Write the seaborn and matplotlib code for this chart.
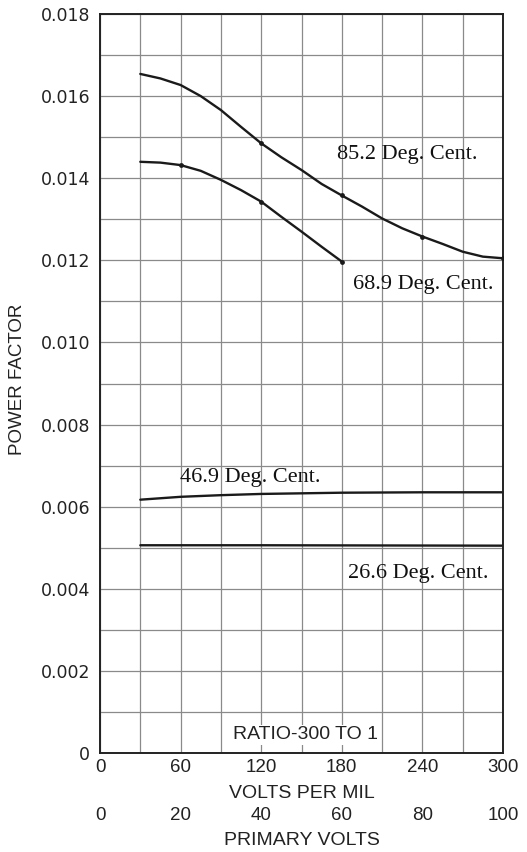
import matplotlib
matplotlib.use("Agg")
import matplotlib.pyplot as plt
import seaborn as sns
import pandas as pd
import numpy as np

# ---- data ----
x_852 = [30, 45, 60, 75, 90, 105, 120, 135, 150, 165, 180, 195, 210, 225, 240, 255, 270, 285, 300]
pf_852 = [0.01654, 0.01643, 0.01627, 0.01600, 0.01566, 0.01525, 0.01485, 0.01451, 0.01420,
          0.01386, 0.01358, 0.01331, 0.01302, 0.01278, 0.01258, 0.01240, 0.01221, 0.01209, 0.01205]
x_689 = [30, 45, 60, 75, 90, 105, 120, 135, 150, 165, 180]
pf_689 = [0.01440, 0.01438, 0.01432, 0.01418, 0.01396, 0.01371, 0.01343, 0.01306, 0.01270, 0.01233, 0.01197]
x_469 = [30, 60, 90, 120, 180, 240, 300]
pf_469 = [0.00617, 0.00624, 0.00628, 0.00631, 0.00634, 0.00635, 0.00635]
x_266 = [30, 120, 300]
pf_266 = [0.00506, 0.00506, 0.00505]

# measured points marked with dots
mark_x_852 = [120, 180, 240, 300]
mark_x_689 = [60, 120, 180]

labels = ["85.2 Deg. Cent.", "68.9 Deg. Cent.", "46.9 Deg. Cent.", "26.6 Deg. Cent."]
x_ticks = [0, 60, 120, 180, 240, 300]
y_ticks = [0, 0.002, 0.004, 0.006, 0.008, 0.010, 0.012, 0.014, 0.016, 0.018]
prim_ticks = [0, 20, 40, 60, 80, 100]

sns.set_style("white")
plt.rcParams['font.family'] = ['DejaVu Sans']

fig = plt.figure(figsize=(5.27, 8.52), dpi=100)
ax = fig.add_axes([100/527, 1-753/852, 403/527, 739/852])

df = pd.concat([
    pd.DataFrame({"x": x_852, "pf": pf_852, "s": labels[0]}),
    pd.DataFrame({"x": x_689, "pf": pf_689, "s": labels[1]}),
    pd.DataFrame({"x": x_469, "pf": pf_469, "s": labels[2]}),
    pd.DataFrame({"x": x_266, "pf": pf_266, "s": labels[3]}),
])
lc = "#1a1a1a"
sns.lineplot(data=df, x="x", y="pf", hue="s", palette=[lc]*4, legend=False,
             ax=ax, linewidth=1.7, sort=True)
mk = pd.DataFrame({
    "x": mark_x_852 + mark_x_689,
    "pf": [pf_852[x_852.index(v)] for v in mark_x_852] + [pf_689[x_689.index(v)] for v in mark_x_689],
})
sns.scatterplot(data=mk, x="x", y="pf", ax=ax, color=lc, s=12, zorder=4, legend=False, linewidth=0)

ax.set_xlim(0, 300)
ax.set_ylim(0, 0.018)
ax.grid(True, color="#8a8a8a", linewidth=0.9)
ax.set_axisbelow(True)
for sp in ax.spines.values():
    sp.set_visible(True)
    sp.set_color("#222222")
    sp.set_linewidth(1.4)

grid_x = list(range(0, 301, 30))
ax.set_xticks(grid_x)
ax.set_xticklabels([str(v) if v in x_ticks else "" for v in grid_x])
grid_y = [i / 1000 for i in range(0, 19)]
ax.set_yticks(grid_y)
ax.set_yticklabels(["0" if v == 0 else (f"{v:.3f}" if i % 2 == 0 else "") for i, v in enumerate(grid_y)])
ax.tick_params(axis="both", length=0)
for t in ax.get_xticklabels():
    t.set_fontfamily("Liberation Sans")
ax.tick_params(axis="x", labelsize=13.5, pad=4, colors="#222222")
ax.tick_params(axis="y", labelsize=12.5, pad=7, colors="#222222")
ax.set_xlabel("VOLTS PER MIL", fontsize=14, labelpad=7, color="#222222", family="Liberation Sans")
ax.set_ylabel("POWER FACTOR", fontsize=13.5, color="#222222", family="Liberation Sans")
ax.yaxis.set_label_coords(-0.183, 0.505)

sec = ax.secondary_xaxis(-0.065, functions=(lambda v: v / 3, lambda v: v * 3))
sec.set_xticks(prim_ticks)
sec.spines["bottom"].set_visible(False)
sec.tick_params(length=0, labelsize=13.5, pad=4, colors="#222222")
for t in sec.get_xticklabels():
    t.set_fontfamily("Liberation Sans")
sec.set_xlabel("PRIMARY VOLTS", fontsize=14, labelpad=6, color="#222222", family="Liberation Sans")

serif = dict(family="Liberation Serif", fontsize=16, color="#111111")
ax.text(229, 0.01457, labels[0], ha="center", va="center", **serif)
ax.text(241, 0.01140, labels[1], ha="center", va="center", **serif)
ax.text(112, 0.00672, labels[2], ha="center", va="center", **serif)
ax.text(237, 0.00438, labels[3], ha="center", va="center", **serif)
ax.text(153, 0.00044, "RATIO-300 TO 1", ha="center", va="center", family="Liberation Sans",
        fontsize=14, color="#222222", bbox=dict(facecolor="white", edgecolor="none", pad=1))

fig.savefig("out.png", dpi=100)
